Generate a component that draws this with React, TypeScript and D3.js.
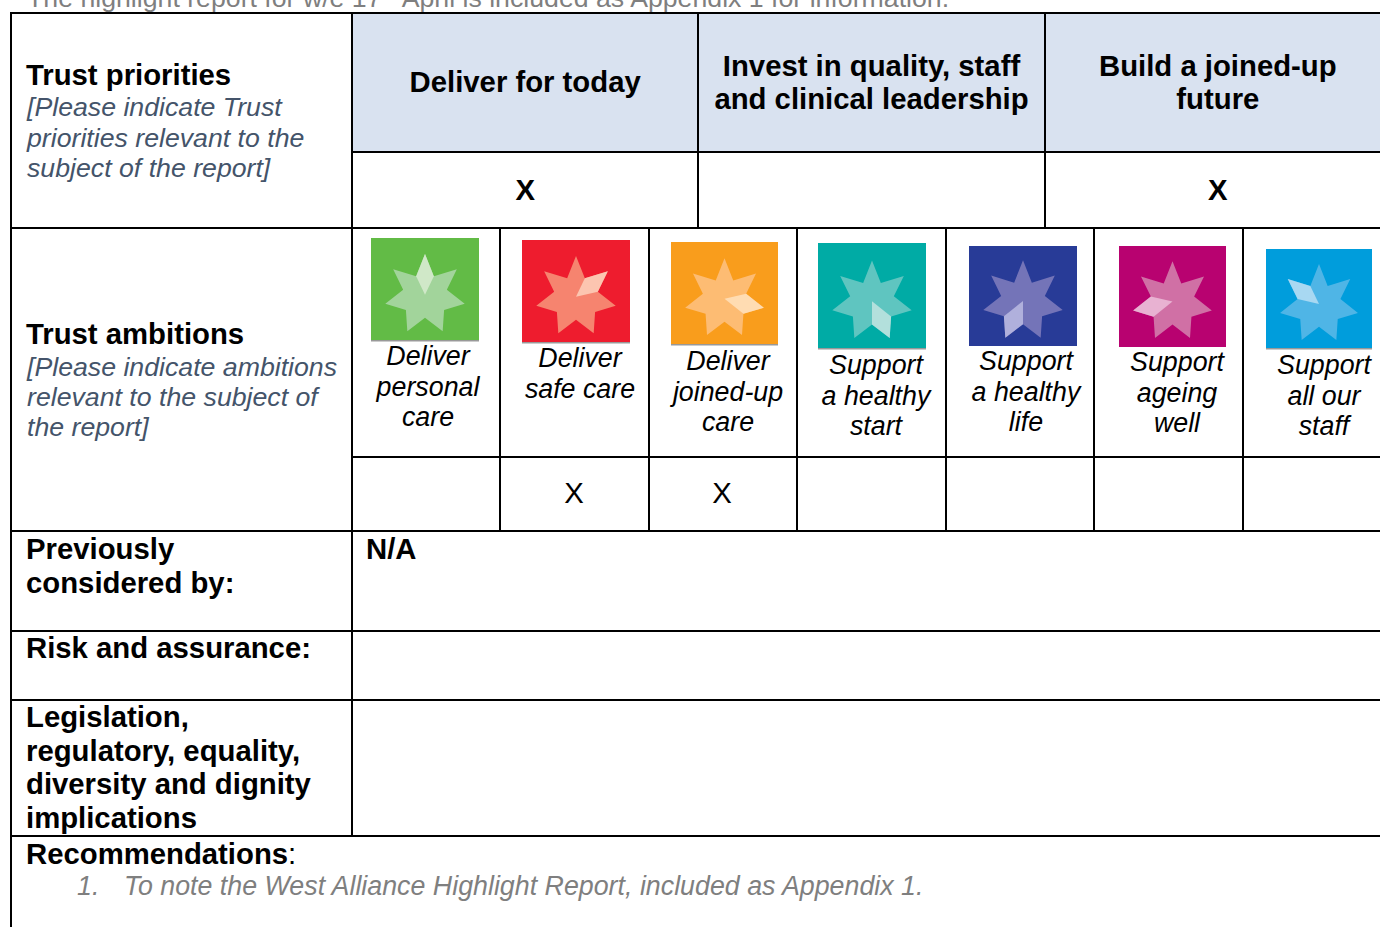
import React, { useEffect, useRef } from 'react';
import * as d3 from 'd3';

const introLine = ['The highlight report for w/e 17', 'th', ' April is included as Appendix 1 for information.'];
const priorities = [['Deliver for today'], ['Invest in quality, staff', 'and clinical leadership'], ['Build a joined-up', 'future']];
const priorityMarks = ['X', '', 'X'];
const ambitions = [
  ['Deliver', 'personal', 'care'],
  ['Deliver', 'safe care'],
  ['Deliver', 'joined-up', 'care'],
  ['Support', 'a healthy', 'start'],
  ['Support', 'a healthy', 'life'],
  ['Support', 'ageing', 'well'],
  ['Support', 'all our', 'staff'],
];
const ambitionMarks = ['', 'X', 'X', '', '', '', ''];
const ambitionColors = ['#62bb46', '#ee1c2e', '#f99d1c', '#00aba5', '#283b97', '#b80270', '#009ddc'];
const starColors = ['#a2d49b', '#f6846f', '#fdbc73', '#5fc5c0', '#7474b8', '#d070a5', '#4fb5e6'];
const kiteColors = ['#d0e8c8', '#fcc5b0', '#ffdcb2', '#b3e0dc', '#b0b0dc', '#e8b2d2', '#a8d8f2'];

// icon boxes as measured: x, y, w, h, edge strip colour
const iconBoxes: [number, number, number, number, string][] = [
  [371, 238, 108, 103, '#999'],
  [522, 240, 108, 103, '#999'],
  [671, 242, 107, 103, '#999'],
  [818, 243, 108, 106, '#999'],
  [969, 246, 108, 100, ''],
  [1119, 246, 107, 101, ''],
  [1266, 249, 106, 100, '#999'],
];
const ambitionTextX = [428, 580, 728, 876, 1026, 1177, 1324];
const ambitionTextY = [365, 367, 370, 374, 370, 371, 374];
// the star is not quite regular: inner radius after each point, clockwise from the top
const innerRatio = [0.5, 0.55, 0.6, 0.57, 0.6, 0.55, 0.5];

const rowY = [13, 152, 228, 457, 531, 631, 700, 836];
const leftX = 11, splitX = 352, W = 1380, H = 927;
const FONT = '"Liberation Sans", Arial, sans-serif';
const BOLD = 29.3, ITALIC = 26.8;

export default function App() {
  const ref = useRef<SVGSVGElement>(null);

  useEffect(() => {
    const svg = d3.select(ref.current);
    svg.selectAll('*').remove();

    const priorityX = d3.scaleBand<number>().domain(d3.range(3)).range([splitX, 1391]);
    const ambitionX = d3.scaleBand<number>().domain(d3.range(7)).range([splitX, 1391]);

    const text = (x: number, y: number, s: string, size: number, opts: any = {}) =>
      svg.append('text')
        .attr('x', x).attr('y', y)
        .attr('font-family', FONT)
        .attr('font-size', size)
        .attr('font-weight', opts.weight || 'normal')
        .attr('font-style', opts.style || 'normal')
        .attr('fill', opts.fill || '#000')
        .attr('text-anchor', opts.anchor || 'start')
        .text(s);

    // header fill
    svg.append('rect')
      .attr('x', splitX).attr('y', rowY[0])
      .attr('width', W - splitX).attr('height', rowY[1] - rowY[0])
      .attr('fill', '#d9e2f0');

    // intro line, cut by the top of the page
    const intro = text(27, 7, '', 26.7, { fill: '#7f7f7f' });
    intro.append('tspan').text(introLine[0]);
    intro.append('tspan').attr('dy', -9).attr('font-size', 17).text(introLine[1]);
    intro.append('tspan').attr('dy', 9).text(introLine[2]);

    // priorities
    priorities.forEach((lines, i) => {
      const cx = priorityX(i)! + priorityX.bandwidth() / 2;
      const y0 = lines.length === 1 ? 92 : 76;
      lines.forEach((l, j) => text(cx, y0 + j * 33, l, BOLD, { weight: 'bold', anchor: 'middle' }));
      text(cx, 200, priorityMarks[i], BOLD, { weight: 'bold', anchor: 'middle' });
    });

    // ambitions
    const star = d3.lineRadial<[number, number]>()
      .angle(d => d[0]).radius(d => d[1]).curve(d3.curveLinearClosed);
    const step = (2 * Math.PI) / 7;

    ambitions.forEach((lines, i) => {
      const [x, y, w, h, edge] = iconBoxes[i];
      svg.append('rect').attr('x', x).attr('y', y).attr('width', w).attr('height', h).attr('fill', ambitionColors[i]);
      if (edge) svg.append('rect').attr('x', x).attr('y', y + h - 1).attr('width', w).attr('height', 1.5).attr('fill', edge);

      const R = 0.377 * w;
      const g = svg.append('g').attr('transform', `translate(${x + w / 2},${y + h * 0.55})`);
      const pts: [number, number][] = d3.range(7).flatMap(k => [
        [k * step, R],
        [(k + 0.5) * step, R * innerRatio[k]],
      ] as [number, number][]);
      g.append('path').attr('d', star(pts)).attr('fill', starColors[i]);
      // the kite picks out one point of the star per ambition
      const a = i * step;
      const kite: [number, number][] = [
        [a, R],
        [a + step / 2, R * innerRatio[i]],
        [a, 0],
        [a - step / 2, R * innerRatio[(i + 6) % 7]],
      ];
      g.append('path').attr('d', star(kite)).attr('fill', kiteColors[i]);

      lines.forEach((l, j) =>
        text(ambitionTextX[i], ambitionTextY[i] + j * 30.5, l, ITALIC, { style: 'italic', anchor: 'middle' }));
      text(Math.round(ambitionX(i)! + ambitionX.bandwidth() / 2) - 1, 503, ambitionMarks[i], BOLD, { anchor: 'middle' });
    });

    // left column
    text(26, 85, 'Trust priorities', BOLD, { weight: 'bold' });
    ['[Please indicate Trust', 'priorities relevant to the', 'subject of the report]'].forEach((l, j) =>
      text(27, 116 + j * 30.5, l, 26.7, { style: 'italic', fill: '#44546a' }));
    text(26, 344, 'Trust ambitions', BOLD, { weight: 'bold' });
    ['[Please indicate ambitions', 'relevant to the subject of', 'the report]'].forEach((l, j) =>
      text(27, 376 + j * 30, l, 26.7, { style: 'italic', fill: '#44546a' }));
    ['Previously', 'considered by:'].forEach((l, j) => text(26, 559 + j * 33.7, l, BOLD, { weight: 'bold' }));
    text(366, 559, 'N/A', BOLD, { weight: 'bold' });
    text(26, 658, 'Risk and assurance:', BOLD, { weight: 'bold' });
    ['Legislation,', 'regulatory, equality,', 'diversity and dignity', 'implications'].forEach((l, j) =>
      text(26, 727 + j * 33.7, l, BOLD, { weight: 'bold' }));

    const rec = text(26, 864, '', BOLD);
    rec.append('tspan').attr('font-weight', 'bold').text('Recommendations');
    rec.append('tspan').text(':');
    text(77, 895, '1.', ITALIC, { style: 'italic', fill: '#7f7f7f' });
    text(124, 895, 'To note the West Alliance Highlight Report, included as Appendix 1.', ITALIC, { style: 'italic', fill: '#7f7f7f' });

    // rules
    const rule = (x1: number, y1: number, x2: number, y2: number) =>
      svg.append('line').attr('x1', x1).attr('y1', y1).attr('x2', x2).attr('y2', y2)
        .attr('stroke', '#000').attr('stroke-width', 2);
    rule(leftX, rowY[0] - 1, leftX, H);
    rule(leftX, rowY[0], W, rowY[0]);
    rule(leftX, rowY[2], W, rowY[2]);
    rule(splitX, rowY[1], W, rowY[1]);
    rule(splitX, rowY[3], W, rowY[3]);
    rowY.slice(4).forEach(y => rule(leftX, y, W, y));
    rule(splitX, rowY[0], splitX, rowY[7]);
    d3.range(1, 3).forEach(i => {
      const x = Math.round(priorityX(i)!);
      rule(x, rowY[0], x, rowY[2]);
    });
    d3.range(1, 7).forEach(i => {
      const x = Math.round(ambitionX(i)!);
      rule(x, rowY[2], x, rowY[4]);
    });
  }, []);

  return (
    <svg ref={ref} width={W} height={H}
      style={{ position: 'absolute', left: 0, top: 0, background: '#fff' }} />
  );
}
